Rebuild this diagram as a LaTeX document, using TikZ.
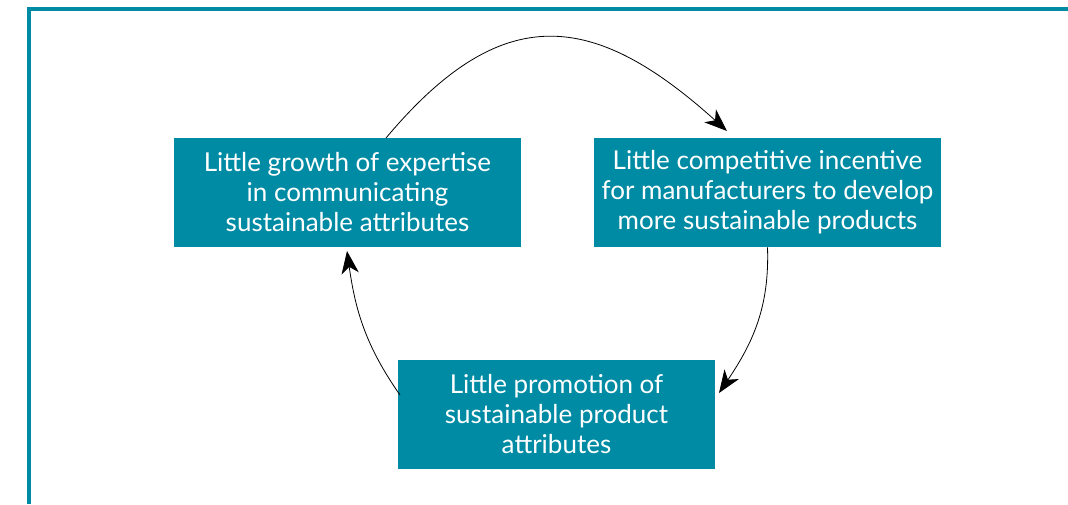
\documentclass[tikz,border=0pt]{standalone}
\usepackage{fontspec}
\setmainfont{Lato}
\usetikzlibrary{arrows.meta}
\definecolor{tealbox}{RGB}{0,139,164}
\tikzset{
    cyclebox/.style={fill=tealbox, text=white, align=center, inner sep=0pt,
        minimum height=81.75pt, font=\fontsize{19.5}{22.5}\selectfont},
    cyclearrow/.style={-{Stealth[length=17pt,width=13pt,inset=5pt]}, line width=0.6pt}
}
\begin{document}
\begin{tikzpicture}[x=0.75pt,y=0.75pt,yscale=-1,xscale=1]
    \useasboundingbox (0,0) rectangle (1068,504);
    % frame
    \draw [color=tealbox, line width=2.4pt]   (29,504) -- (29,9) -- (1068,9) ;
    % boxes
    \node [cyclebox, minimum width=260.25pt] (growth) at (347.5,192.5) {Little growth of expertise\\in communicating\\sustainable attributes};
    \node [cyclebox, minimum width=260.25pt] (incentive) at (767.5,192.5) {Little competitive incentive\\for manufacturers to develop\\more sustainable products};
    \node [cyclebox, minimum width=237.75pt] (promotion) at (556.5,414.5) {Little promotion of\\sustainable product\\attributes};
    % arc ends
    \coordinate (growthtop) at (386,138);
    \coordinate (incentivetip) at (727,131);
    \coordinate (promotiontip) at (719,393);
    \coordinate (promotionleft) at (400,395);
    \coordinate (growthtip) at (347,251);
    % cycle
    \draw [cyclearrow]   (growthtop) to[out=-50,in=-138,looseness=1.35] (incentivetip) ;
    \draw [cyclearrow]   (incentive.south) to[out=88,in=-56] (promotiontip) ;
    \draw [cyclearrow]   (promotionleft) to[out=-125,in=82] (growthtip) ;
\end{tikzpicture}
\end{document}
